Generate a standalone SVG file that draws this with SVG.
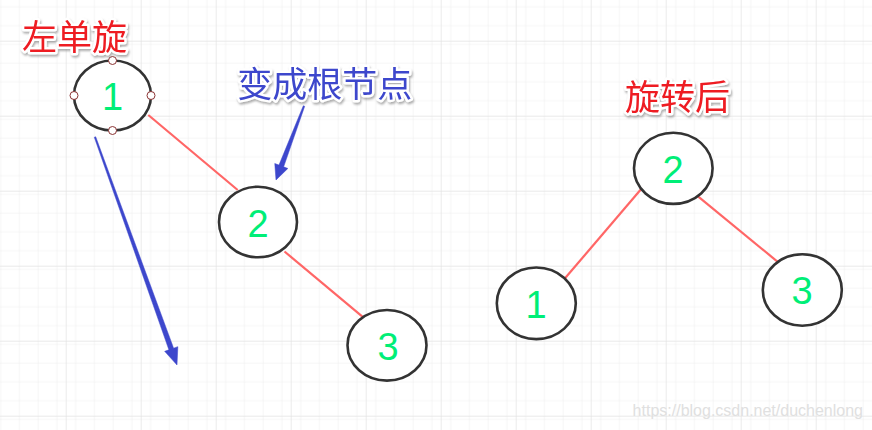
<svg xmlns="http://www.w3.org/2000/svg" width="872" height="430" viewBox="0 0 872 430">
<defs>
<pattern id="minor" x="-9.3" y="-34.3" width="18.75" height="18.75" patternUnits="userSpaceOnUse">
<path d="M 0 0 V 18.75 M 0 0 H 18.75" stroke="#eeeeee" stroke-width="1.2" fill="none"/>
</pattern>
<pattern id="major" x="-9.3" y="-34.3" width="75" height="75" patternUnits="userSpaceOnUse">
<rect width="75" height="75" fill="url(#minor)"/>
<path d="M 0 0 V 75 M 0 0 H 75" stroke="#e2e2e2" stroke-width="1.4" fill="none"/>
</pattern>
<filter id="shadow" x="-10%" y="-20%" width="130%" height="150%">
<feDropShadow dx="1" dy="2" stdDeviation="1" flood-color="#777" flood-opacity="0.6"/>
</filter>
</defs>
<style>
.node{fill:#fff;stroke:#333;stroke-width:2.6}
.num{font-family:"Liberation Sans",Arial,sans-serif;font-size:38px;fill:#00ee77;text-anchor:middle}
.edge{stroke:#ff6666;stroke-width:2.2;fill:none}
.arrow{fill:#3d47cc;stroke:#3d47cc;stroke-width:0.5;stroke-linejoin:round}
.label{font-family:"Noto Sans CJK SC","Microsoft YaHei",sans-serif;font-size:35px;text-anchor:middle;stroke:#fff;stroke-width:5;paint-order:stroke;stroke-linejoin:round;filter:url(#shadow)}
.handle{fill:#fff;stroke:#8b3333;stroke-width:1}
.wm{font-family:"Liberation Sans",Arial,sans-serif;font-size:16px;fill:#e0e0e0;text-anchor:end}
</style>
<rect width="872" height="430" fill="#fff"/>
<rect width="872" height="430" fill="url(#major)"/>

<g id="connectors">
<line class="edge" x1="148.3" y1="115" x2="237.7" y2="190"/>
<line class="edge" x1="284.5" y1="251.5" x2="363.3" y2="317.3"/>
<line class="edge" x1="641" y1="189.3" x2="565" y2="278.3"/>
<line class="edge" x1="698.3" y1="196.7" x2="778.3" y2="262.3"/>
<path class="arrow" d="M 94.29 137.25 L 168.9 349.85 L 164.66 351.37 L 177 365 L 177.84 346.63 L 173.6 348.15 L 95.71 136.75 Z"/>
<path class="arrow" d="M 303.30 105.73 L 278.97 165.09 L 274.76 163.49 L 276 180 L 287.86 168.45 L 283.65 166.86 L 304.70 106.27 Z"/>
</g>

<g id="node-left-1">
<ellipse class="node" cx="112.5" cy="95.5" rx="38.5" ry="35"/>
<text class="num" x="112.5" y="110">1</text>
<circle class="handle" cx="74" cy="95.5" r="4"/>
<circle class="handle" cx="151" cy="95.5" r="4"/>
<circle class="handle" cx="112.5" cy="60.5" r="4"/>
<circle class="handle" cx="112.5" cy="130.5" r="4"/>
</g>
<g id="node-left-2">
<ellipse class="node" cx="258" cy="222" rx="39" ry="35.3"/>
<text class="num" x="258" y="237">2</text>
</g>
<g id="node-left-3">
<ellipse class="node" cx="387" cy="345.3" rx="39.5" ry="35.3"/>
<text class="num" x="388" y="360">3</text>
</g>
<g id="node-right-2">
<ellipse class="node" cx="673.3" cy="168.3" rx="39.3" ry="35.6"/>
<text class="num" x="673" y="183">2</text>
</g>
<g id="node-right-1">
<ellipse class="node" cx="536.3" cy="303.3" rx="39.5" ry="35.8"/>
<text class="num" x="536" y="318">1</text>
</g>
<g id="node-right-3">
<ellipse class="node" cx="802.3" cy="290" rx="39.5" ry="35.8"/>
<text class="num" x="802" y="304">3</text>
</g>

<g id="labels">
<text class="label" x="74.5" y="50" fill="#ee1c24">左单旋</text>
<text class="label" x="324.7" y="97" fill="#3d47cc">变成根节点</text>
<text class="label" x="677.5" y="110" fill="#ee1c24">旋转后</text>
</g>
<text class="wm" x="863" y="416">https://blog.csdn.net/duchenlong</text>
</svg>
